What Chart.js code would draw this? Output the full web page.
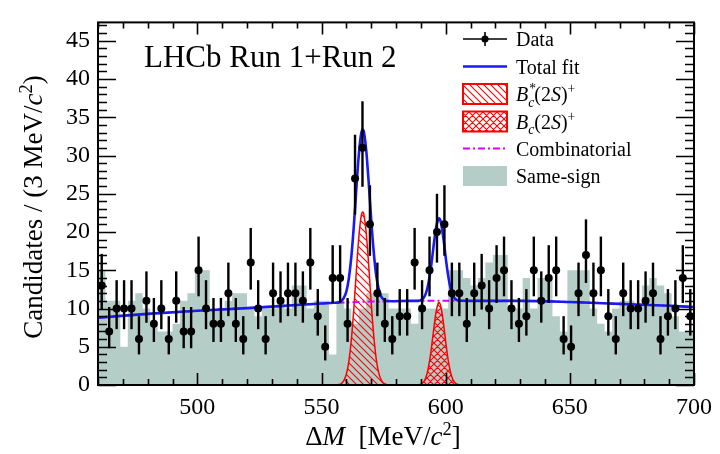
<!DOCTYPE html>
<html>
<head>
<meta charset="utf-8">
<title>Delta M fit</title>
<script src="https://cdn.jsdelivr.net/npm/chart.js"></script>
<style>
  html, body { margin: 0; padding: 0; background: #fff; }
  #wrap { width: 720px; height: 454px; }
</style>
</head>
<body>
<div id="wrap"><canvas id="dmChart" width="720" height="454"></canvas></div>
<script>
// bin centres, 3 MeV bins from 460 to 700
const binCenters = [
  461.5, 464.5, 467.5, 470.5, 473.5, 476.5, 479.5, 482.5, 485.5, 488.5,
  491.5, 494.5, 497.5, 500.5, 503.5, 506.5, 509.5, 512.5, 515.5, 518.5,
  521.5, 524.5, 527.5, 530.5, 533.5, 536.5, 539.5, 542.5, 545.5, 548.5,
  551.5, 554.5, 557.5, 560.5, 563.5, 566.5, 569.5, 572.5, 575.5, 578.5,
  581.5, 584.5, 587.5, 590.5, 593.5, 596.5, 599.5, 602.5, 605.5, 608.5,
  611.5, 614.5, 617.5, 620.5, 623.5, 626.5, 629.5, 632.5, 635.5, 638.5,
  641.5, 644.5, 647.5, 650.5, 653.5, 656.5, 659.5, 662.5, 665.5, 668.5,
  671.5, 674.5, 677.5, 680.5, 683.5, 686.5, 689.5, 692.5, 695.5, 698.5
];
const dataCounts = [
  13, 7, 10, 10, 10, 6, 11, 8, 10, 6,
  11, 7, 7, 15, 10, 8, 8, 12, 8, 6,
  16, 10, 6, 12, 11, 12, 12, 11, 16, 9,
  5, 14, 14, 8, 27, 31, 21, 12, 8, 6,
  9, 9, 16, 10, 15, 20, 21, 12, 12, 8,
  12, 13, 10, 14, 15, 10, 8, 9, 15, 11,
  14, 15, 6, 5, 12, 17, 12, 15, 9, 6,
  12, 10, 10, 11, 12, 6, 9, 10, 14, 9
];
const sameSign = [
  15, 15, 11, 11, 5, 11, 12, 10, 8, 7,
  7, 8, 11, 12, 15, 15, 10, 10, 11, 12,
  12, 10, 9, 10, 10, 11, 10, 13, 13, 10,
  11, 11, 4, 11, 10, 8, 10, 12, 12, 12,
  10, 10, 10, 8, 10, 10, 10, 10, 15, 15,
  14, 13, 14, 16, 17, 17, 10, 10, 14, 10,
  14, 14, 9, 7, 15, 15, 15, 10, 8, 7,
  10, 11, 11, 10, 13, 14, 13, 12, 9, 7
];
const xTickValues = [500, 550, 600, 650, 700];
const yTickValues = [0, 5, 10, 15, 20, 25, 30, 35, 40, 45];

// total fit
const fitX = [460, 480, 500, 520, 540, 550, 555, 557, 558, 559, 560, 561, 562, 563, 564, 565, 566, 566.6,
  567, 568, 569, 570, 571, 572, 573, 574, 575, 576, 578, 585, 589, 590, 591, 592, 593, 594, 595, 596,
  597, 597.3, 598, 599, 600, 601, 602, 603, 604, 605, 610, 630, 650, 670, 690, 700];
const fitY = [8.8, 9.3, 9.7, 10.05, 10.45, 10.65, 10.75, 10.8, 11.0, 11.4, 12.2, 13.9, 16.7, 20.7, 25.5, 30.0, 32.9, 33.4,
  33.2, 30.7, 26.5, 21.7, 17.5, 14.4, 12.6, 11.6, 11.2, 11.0, 10.95, 11.0, 11.0, 11.1, 11.35, 11.95, 13.2, 15.2, 17.8, 20.3,
  21.7, 21.8, 21.35, 19.4, 16.7, 14.3, 12.6, 11.65, 11.2, 11.05, 11.0, 11.0, 10.85, 10.6, 10.35, 10.2];

// combinatorial component
const combX = [460, 470, 480, 490, 500, 510, 520, 530, 540, 550, 560, 570, 580, 590, 600, 610, 620, 630, 640, 650, 660, 670, 680, 690, 700];
const combY = [8.8, 9.05, 9.3, 9.5, 9.7, 9.9, 10.05, 10.25, 10.45, 10.65, 10.8, 10.9, 10.95, 11.0, 11.0, 11.0, 11.0, 11.0, 10.95, 10.85, 10.75, 10.6, 10.5, 10.35, 10.2];

// Bc*(2S)+ component
const bcStarX = [460, 556, 557, 558, 559, 560, 561, 562, 563, 564, 565, 566, 566.6, 567, 568, 569, 570, 571, 572, 573, 574, 575, 576, 577, 700];
const bcStarY = [0, 0, 0.06, 0.2, 0.57, 1.4, 3.06, 5.86, 9.9, 14.7, 19.2, 22.1, 22.6, 22.4, 19.9, 15.7, 10.8, 6.6, 3.5, 1.66, 0.69, 0.25, 0.08, 0.02, 0];

// Bc(2S)+ component
const bcX = [460, 588, 589, 590, 591, 592, 593, 594, 595, 596, 597, 597.3, 598, 599, 600, 601, 602, 603, 604, 605, 606, 700];
const bcY = [0, 0, 0.03, 0.1, 0.34, 0.94, 2.2, 4.2, 6.8, 9.3, 10.7, 10.8, 10.35, 8.4, 5.7, 3.3, 1.6, 0.64, 0.22, 0.06, 0, 0];

const legendLabels = ['Data', 'Total fit', 'Bc*(2S)+', 'Bc(2S)+', 'Combinatorial', 'Same-sign'];

const serif = 'Liberation Serif';
const teal = 'rgb(180, 205, 199)';
const fitBlue = 'rgb(25, 25, 245)';
const combPink = 'rgb(215, 0, 255)';

const canvas = document.getElementById('dmChart');
const ctx = canvas.getContext('2d');

function makeHatch(cross) {
  const p = document.createElement('canvas');
  p.width = 7; p.height = 7;
  const g = p.getContext('2d');
  g.strokeStyle = 'rgb(255, 0, 0)';
  g.lineWidth = 1.1;
  g.beginPath();
  g.moveTo(-1, -1); g.lineTo(8, 8);
  g.moveTo(-1, 6); g.lineTo(1, 8);
  g.moveTo(6, -1); g.lineTo(8, 1);
  if (cross) {
    g.moveTo(8, -1); g.lineTo(-1, 8);
    g.moveTo(1, -1); g.lineTo(-1, 1);
    g.moveTo(8, 6); g.lineTo(6, 8);
  }
  g.stroke();
  return ctx.createPattern(p, 'repeat');
}
const hatchDiag = makeHatch(false);
const hatchCross = makeHatch(true);

// text with italic / sub / sup pieces
function setFont(c, p, size) {
  const s = p.sub || p.sup ? size * 0.68 : size;
  c.font = (p.it ? 'italic ' : '') + s + 'px "' + serif + '"';
}
function richWidth(c, parts, size) {
  let w = 0;
  parts.forEach(p => {
    setFont(c, p, size);
    if (!p.stack) w += c.measureText(p.t).width;
  });
  return w;
}
function drawRich(c, parts, x, y, size) {
  let cx = x;
  parts.forEach(p => {
    setFont(c, p, size);
    let dy = 0;
    if (p.sub) dy = size * 0.28;
    if (p.sup) dy = -size * 0.38;
    c.fillText(p.t, cx + (p.dx || 0), y + dy);
    if (!p.stack) cx += c.measureText(p.t).width;
  });
}

function errLo(n) { return Math.sqrt(n + 0.25) - 0.5; }
function errHi(n) { return Math.sqrt(n + 0.25) + 0.5; }

const decorPlugin = {
  id: 'decor',
  afterDatasetsDraw(chart) {
    const c = chart.ctx;
    const xs = chart.scales.x, ys = chart.scales.y;
    // error bars
    c.save();
    c.strokeStyle = '#000';
    c.lineWidth = 2.4;
    dataCounts.forEach((n, i) => {
      const px = xs.getPixelForValue(binCenters[i]);
      c.beginPath();
      c.moveTo(px, ys.getPixelForValue(Math.max(0, n - errLo(n))));
      c.lineTo(px, ys.getPixelForValue(n + errHi(n)));
      c.stroke();
    });
    c.restore();
  },
  afterDraw(chart) {
    const c = chart.ctx;
    const a = chart.chartArea;
    const xs = chart.scales.x, ys = chart.scales.y;
    c.save();
    c.strokeStyle = '#000';
    c.lineWidth = 1.6;
    // ticks pointing inwards on all sides
    c.beginPath();
    for (let v = 460; v <= 700; v += 10) {
      const px = Math.round(xs.getPixelForValue(v)) + 0.5;
      const len = v % 50 === 0 ? 12 : 6;
      c.moveTo(px, a.bottom); c.lineTo(px, a.bottom - len);
      c.moveTo(px, a.top); c.lineTo(px, a.top + len);
    }
    for (let v = 0; v <= 47; v += 1) {
      const py = Math.round(ys.getPixelForValue(v)) + 0.5;
      const len = v % 5 === 0 ? 18 : 9;
      c.moveTo(a.left, py); c.lineTo(a.left + len, py);
      c.moveTo(a.right, py); c.lineTo(a.right - len, py);
    }
    c.stroke();
    c.lineWidth = 2;
    c.strokeRect(a.left, a.top, a.right - a.left, a.bottom - a.top);

    // axis titles
    c.fillStyle = '#000';
    c.textBaseline = 'alphabetic';
    const xt = [{ t: '\u0394' }, { t: 'M', it: true }, { t: '  [MeV/' }, { t: 'c', it: true }, { t: '2', sup: true }, { t: ']' }];
    const xw = richWidth(c, xt, 27);
    drawRich(c, xt, 383 - xw / 2, 445, 27);

    const yt = [{ t: 'Candidates / (3 MeV/' }, { t: 'c', it: true }, { t: '2', sup: true }, { t: ')' }];
    const yw = richWidth(c, yt, 27);
    c.save();
    c.translate(42, 207);
    c.rotate(-Math.PI / 2);
    drawRich(c, yt, -yw / 2, 0, 27);
    c.restore();

    // experiment label
    c.font = '31px "' + serif + '"';
    c.fillText('LHCb Run 1+Run 2', 144, 67);

    // legend
    const lx0 = 463, lx1 = 507, tx = 516;
    const rows = [39, 66.5, 94, 121.5, 148.5, 176];
    // Data
    c.strokeStyle = '#000'; c.lineWidth = 1.6;
    c.beginPath();
    c.moveTo(lx0, rows[0]); c.lineTo(lx1, rows[0]);
    c.moveTo(485, rows[0] - 7); c.lineTo(485, rows[0] + 7);
    c.stroke();
    c.beginPath(); c.arc(485, rows[0], 3.6, 0, Math.PI * 2); c.fillStyle = '#000'; c.fill();
    // Total fit
    c.strokeStyle = fitBlue; c.lineWidth = 2.5;
    c.beginPath(); c.moveTo(lx0, rows[1]); c.lineTo(lx1, rows[1]); c.stroke();
    // hatched boxes
    [[hatchDiag, rows[2]], [hatchCross, rows[3]]].forEach(([pat, ry]) => {
      c.fillStyle = '#fff';
      c.fillRect(lx0, ry - 10, lx1 - lx0, 20);
      c.fillStyle = pat;
      c.fillRect(lx0, ry - 10, lx1 - lx0, 20);
      c.strokeStyle = 'rgb(255, 0, 0)'; c.lineWidth = 2;
      c.strokeRect(lx0, ry - 10, lx1 - lx0, 20);
    });
    // Combinatorial
    c.strokeStyle = combPink; c.lineWidth = 2;
    c.setLineDash([7, 3, 2, 3]);
    c.beginPath(); c.moveTo(lx0, rows[4]); c.lineTo(lx1, rows[4]); c.stroke();
    c.setLineDash([]);
    // Same-sign
    c.fillStyle = teal;
    c.fillRect(lx0, rows[5] - 10, lx1 - lx0, 20);

    c.fillStyle = '#000';
    c.textBaseline = 'alphabetic';
    const plain = '20px "' + serif + '"';
    c.font = plain;
    c.fillText(legendLabels[0], tx, rows[0] + 7);
    c.fillText(legendLabels[1], tx, rows[1] + 7);
    drawRich(c, [{ t: 'B', it: true }, { t: '*', sup: true, stack: true, dx: 1 }, { t: 'c', it: true, sub: true },
      { t: '(2' }, { t: 'S', it: true }, { t: ')' }, { t: '+', sup: true }], tx, rows[2] + 7, 20);
    drawRich(c, [{ t: 'B', it: true }, { t: 'c', it: true, sub: true },
      { t: '(2' }, { t: 'S', it: true }, { t: ')' }, { t: '+', sup: true }], tx, rows[3] + 7, 20);
    c.font = plain;
    c.fillText(legendLabels[4], tx, rows[4] + 7);
    c.fillText(legendLabels[5], tx, rows[5] + 7);
    c.restore();
  }
};

const ssPoints = sameSign.map((v, i) => ({ x: binCenters[i] - 1.5, y: v }));
ssPoints.push({ x: 700, y: sameSign[sameSign.length - 1] });

const zip = (xs, ys) => xs.map((x, i) => ({ x: x, y: ys[i] }));

new Chart(canvas, {
  type: 'line',
  data: {
    datasets: [
      {
        label: legendLabels[5], data: ssPoints, stepped: 'after',
        fill: 'origin', backgroundColor: teal, borderWidth: 0, pointRadius: 0, order: 6
      },
      {
        label: legendLabels[2], data: zip(bcStarX, bcStarY), fill: 'origin',
        backgroundColor: hatchDiag, borderColor: 'rgb(255, 0, 0)', borderWidth: 1.5,
        pointRadius: 0, cubicInterpolationMode: 'monotone', order: 5
      },
      {
        label: legendLabels[3], data: zip(bcX, bcY), fill: 'origin',
        backgroundColor: hatchCross, borderColor: 'rgb(255, 0, 0)', borderWidth: 1.5,
        pointRadius: 0, cubicInterpolationMode: 'monotone', order: 4
      },
      {
        label: legendLabels[4], data: zip(combX, combY), fill: false,
        borderColor: combPink, borderWidth: 2, borderDash: [7, 3, 2, 3],
        pointRadius: 0, cubicInterpolationMode: 'monotone', order: 3
      },
      {
        label: legendLabels[1], data: zip(fitX, fitY), fill: false,
        borderColor: fitBlue, borderWidth: 2.6, pointRadius: 0,
        cubicInterpolationMode: 'monotone', order: 2
      },
      {
        label: legendLabels[0], data: zip(binCenters, dataCounts), showLine: false,
        pointRadius: 4, pointBackgroundColor: '#000', pointBorderWidth: 0, order: 1
      }
    ]
  },
  options: {
    responsive: false,
    animation: false,
    devicePixelRatio: 1,
    layout: { padding: { left: 0, right: 20, top: 10, bottom: 0 } },
    plugins: { legend: { display: false }, tooltip: { enabled: false } },
    scales: {
      x: {
        type: 'linear', min: 460, max: 700,
        afterFit: s => { s.height = 69; },
        afterBuildTicks: s => { s.ticks = xTickValues.map(v => ({ value: v })); },
        grid: { display: false, drawTicks: false },
        border: { display: false },
        ticks: {
          maxRotation: 0, padding: 8, color: '#000', autoSkip: false,
          font: { family: serif, size: 24 }
        }
      },
      y: {
        min: 0, max: 47.4,
        afterFit: s => { s.width = 98; },
        afterBuildTicks: s => { s.ticks = yTickValues.map(v => ({ value: v })); },
        grid: { display: false, drawTicks: false },
        border: { display: false },
        ticks: {
          padding: 8, color: '#000', autoSkip: false,
          font: { family: serif, size: 24 }
        }
      }
    }
  },
  plugins: [decorPlugin]
});
</script>
</body>
</html>
